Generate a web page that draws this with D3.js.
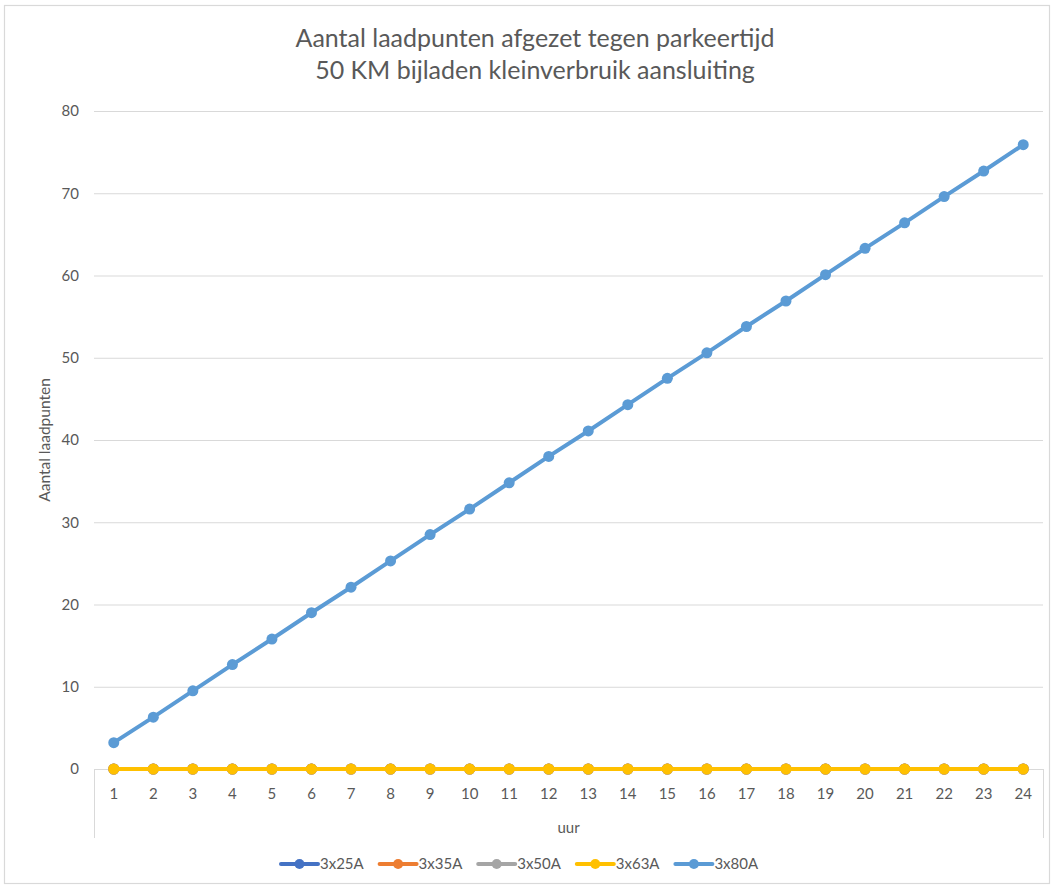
<!DOCTYPE html>
<html><head><meta charset="utf-8">
<script src="https://cdn.jsdelivr.net/npm/d3@7/dist/d3.min.js"></script>
<style>body{margin:0;background:#fff}svg{display:block}text{font-family:Lato,"Open Sans",sans-serif}</style>
</head><body>
<script>
const titleLines = ["Aantal laadpunten afgezet tegen parkeertijd", "50 KM bijladen kleinverbruik aansluiting"];
const hours = ["1","2","3","4","5","6","7","8","9","10","11","12","13","14","15","16","17","18","19","20","21","22","23","24"];
const seriesNames = ["3x25A","3x35A","3x50A","3x63A","3x80A"];
const seriesColors = ["#4472C4","#ED7D31","#A5A5A5","#FFC000","#5B9BD5"];
const s3x25A = [0,0,0,0,0,0,0,0,0,0,0,0,0,0,0,0,0,0,0,0,0,0,0,0];
const s3x35A = [0,0,0,0,0,0,0,0,0,0,0,0,0,0,0,0,0,0,0,0,0,0,0,0];
const s3x50A = [0,0,0,0,0,0,0,0,0,0,0,0,0,0,0,0,0,0,0,0,0,0,0,0];
const s3x63A = [0,0,0,0,0,0,0,0,0,0,0,0,0,0,0,0,0,0,0,0,0,0,0,0];
const s3x80A = [3.2,6.3,9.5,12.7,15.8,19.0,22.1,25.3,28.5,31.6,34.8,38.0,41.1,44.3,47.5,50.6,53.8,56.9,60.1,63.3,66.4,69.6,72.7,75.9];
const yTicks = [0,10,20,30,40,50,60,70,80];
const xTitle = "uur", yTitle = "Aantal laadpunten";
const allSeries = [s3x25A,s3x35A,s3x50A,s3x63A,s3x80A];

(function(){
const W = 1054, H = 888;
const svg = d3.select("body").append("svg").attr("width", W).attr("height", H);
svg.append("rect").attr("x",4.5).attr("y",5.5).attr("width",1045).attr("height",878)
  .attr("fill","#fff").attr("stroke","#d9d9d9").attr("stroke-width",1.2);

const pLeft = 94, pRight = 1043, pTop = 111, pBottom = 769;
const x = d3.scaleBand().domain(hours).range([pLeft, pRight]);
const y = d3.scaleLinear().domain([0,80]).range([pBottom, pTop]);

svg.append("g").selectAll("text").data(titleLines).join("text")
  .attr("x", 535).attr("y", (d,i)=>47 + i*32).attr("text-anchor","middle")
  .attr("font-size", 25).attr("fill", "#595959").text(d=>d);

const grid = svg.append("g");
grid.selectAll("line").data(yTicks.filter(d=>d>0)).join("line")
  .attr("x1", pLeft).attr("x2", pRight).attr("y1", d=>y(d)+0.5).attr("y2", d=>y(d)+0.5)
  .attr("stroke", "#d9d9d9").attr("stroke-width", 1);

const yAxis = d3.axisLeft(y).tickValues(yTicks).tickSize(0).tickPadding(0).tickFormat(d3.format("d"));
const yg = svg.append("g").attr("transform", `translate(${pLeft-15},0)`).call(yAxis);
yg.select(".domain").remove();
yg.selectAll("text").attr("font-size", 15).attr("fill", "#595959").attr("font-family","Lato,sans-serif");

const xb = svg.append("g");
xb.append("line").attr("x1", pLeft).attr("x2", pRight).attr("y1", pBottom+0.5).attr("y2", pBottom+0.5).attr("stroke","#d9d9d9");
xb.append("line").attr("x1", pLeft+0.5).attr("x2", pLeft+0.5).attr("y1", pBottom).attr("y2", 838).attr("stroke","#d9d9d9");
xb.append("line").attr("x1", pRight+0.5).attr("x2", pRight+0.5).attr("y1", pBottom).attr("y2", 838).attr("stroke","#d9d9d9");
const xAxis = d3.axisBottom(x).tickSize(0).tickPadding(0);
const xg = svg.append("g").attr("transform", `translate(0,${pBottom+25})`).call(xAxis);
xg.select(".domain").remove();
xg.selectAll("text").attr("font-size", 15).attr("fill", "#595959").attr("dy","0.32em").attr("font-family","Lato,sans-serif");

svg.append("text").attr("x", (pLeft+pRight)/2).attr("y", 833).attr("text-anchor","middle")
  .attr("font-size", 15).attr("fill","#595959").text(xTitle);
svg.append("text").attr("transform", `translate(50,${(pTop+pBottom)/2}) rotate(-90)`).attr("text-anchor","middle")
  .attr("font-size", 15.5).attr("fill","#595959").text(yTitle);

const line = d3.line().x((d,i)=>x(hours[i]) + x.bandwidth()/2).y(d=>y(d));
allSeries.forEach((vals, si) => {
  const g = svg.append("g");
  g.append("path").datum(vals).attr("d", line).attr("fill","none")
    .attr("stroke", seriesColors[si]).attr("stroke-width", 4).attr("stroke-linejoin","round").attr("stroke-linecap","round");
  g.selectAll("circle").data(vals).join("circle")
    .attr("cx",(d,i)=>x(hours[i]) + x.bandwidth()/2).attr("cy", d=>y(d)).attr("r", 5.5)
    .attr("fill", seriesColors[si]);
});

const lg = svg.append("g").selectAll("g").data(seriesNames).join("g")
  .attr("transform", (d,i)=>`translate(${281 + i*98.6},864)`);
lg.append("line").attr("x1",0).attr("x2",37).attr("y1",0).attr("y2",0)
  .attr("stroke",(d,i)=>seriesColors[i]).attr("stroke-width",4).attr("stroke-linecap","round");
lg.append("circle").attr("cx",18.5).attr("cy",0).attr("r",5).attr("fill",(d,i)=>seriesColors[i]);
lg.append("text").attr("x",39).attr("y",0).attr("dy","0.35em").attr("font-size",15).attr("fill","#595959").text(d=>d);
})();
</script>
</body></html>
